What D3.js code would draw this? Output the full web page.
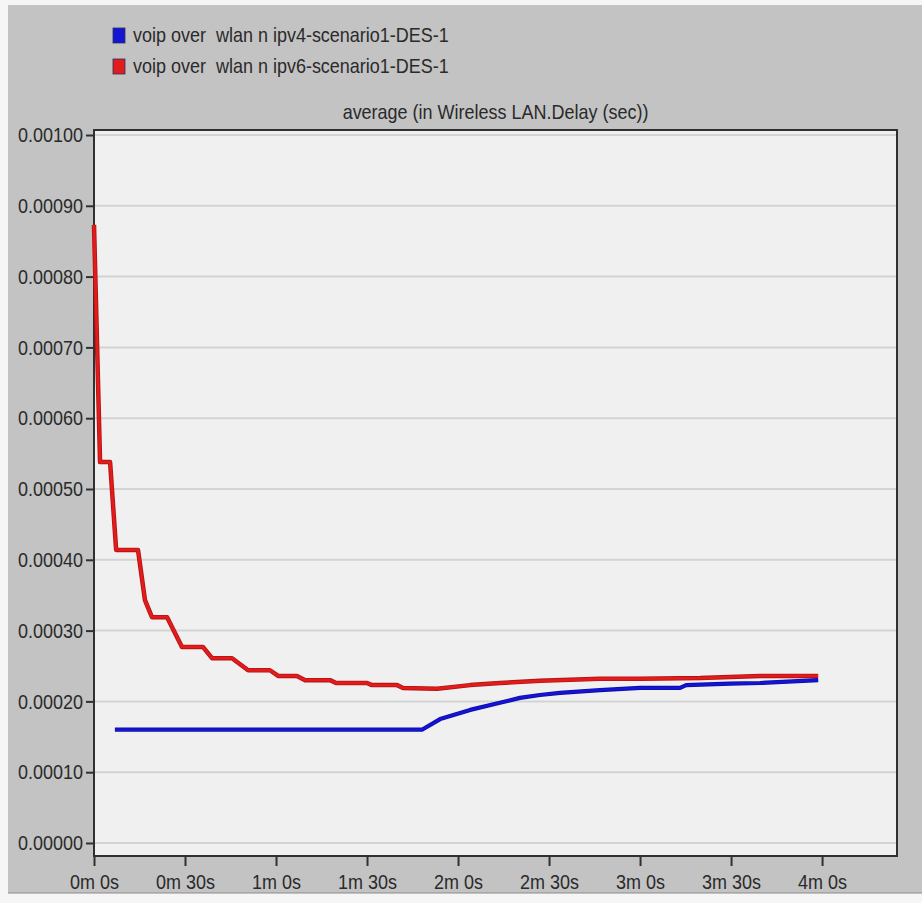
<!DOCTYPE html>
<html>
<head>
<meta charset="utf-8">
<script src="https://cdn.jsdelivr.net/npm/d3@7/dist/d3.min.js"></script>
<style>
  html, body { margin: 0; padding: 0; background: #ffffff; }
  svg { display: block; }
  text { font-family: "Liberation Sans", Arial, sans-serif; fill: #2a2a2a; }
</style>
</head>
<body>
<div id="chart"></div>
<script>
// ---- Data ----
const seriesNames = [
  "voip over  wlan n ipv4-scenario1-DES-1",
  "voip over  wlan n ipv6-scenario1-DES-1"
];
const seriesColors = ["#1414d2", "#e01c1c"];

// time in seconds, value in seconds of delay
const ipv4Times  = [6.9, 108.1, 114.1, 124.0, 133.8, 140.4, 147.0, 153.6, 166.8, 180.0, 193.2, 195.2, 209.7, 219.6, 238.7];
const ipv4Values = [0.000160, 0.000160, 0.000175, 0.000188, 0.000198, 0.000205, 0.000209, 0.000212, 0.000216, 0.000219, 0.000219, 0.000223, 0.000225, 0.000226, 0.000230];

const ipv6Times  = [0, 2.0, 5.3, 7.3, 14.5, 16.8, 19.1, 24.1, 29.0, 35.9, 38.9, 45.5, 50.8, 58.0, 60.7, 66.9, 69.6, 77.8, 79.8, 90.0, 91.6, 99.9, 101.9, 113.1, 124.0, 133.8, 147.0, 166.8, 180.0, 199.8, 219.6, 238.7];
const ipv6Values = [0.000873, 0.000538, 0.000538, 0.000414, 0.000414, 0.000343, 0.000319, 0.000319, 0.000277, 0.000277, 0.000261, 0.000261, 0.000244, 0.000244, 0.000236, 0.000236, 0.000230, 0.000230, 0.000226, 0.000226, 0.000223, 0.000223, 0.000219, 0.000218, 0.000223, 0.000226, 0.000229, 0.000232, 0.000232, 0.000233, 0.000236, 0.000236];

const xTickValues = [0, 30, 60, 90, 120, 150, 180, 210, 240];
const xTickLabels = ["0m 0s", "0m 30s", "1m 0s", "1m 30s", "2m 0s", "2m 30s", "3m 0s", "3m 30s", "4m 0s"];
const yTickValues = [0, 0.0001, 0.0002, 0.0003, 0.0004, 0.0005, 0.0006, 0.0007, 0.0008, 0.0009, 0.0010];
const yTickLabels = ["0.00000", "0.00010", "0.00020", "0.00030", "0.00040", "0.00050", "0.00060", "0.00070", "0.00080", "0.00090", "0.00100"];

const chartTitle = "average (in Wireless LAN.Delay (sec))";

// ---- Layout ----
const W = 922, H = 903;
const plot = { left: 94, right: 897, top: 130, bottom: 856 };
const textStretch = 1.15;

const x = d3.scaleLinear().domain([0, 264.7]).range([plot.left, plot.right]);
const y = d3.scaleLinear().domain([0, 0.001]).range([843, 135]);

const svg = d3.select("#chart").append("svg")
  .attr("width", W).attr("height", H);

// outer panel
svg.append("rect").attr("x", 0).attr("y", 0).attr("width", W).attr("height", H).attr("fill", "#f6f6f6");
svg.append("rect").attr("x", 8).attr("y", 5).attr("width", W - 8).attr("height", 888).attr("fill", "#c3c3c3");
svg.append("line").attr("x1", 8).attr("x2", W).attr("y1", 893).attr("y2", 893).attr("stroke", "#8a8a8a").attr("stroke-width", 1);

// plot background
svg.append("rect")
  .attr("x", plot.left).attr("y", plot.top)
  .attr("width", plot.right - plot.left).attr("height", plot.bottom - plot.top)
  .attr("fill", "#f0f0f0");

// grid lines
svg.append("g").selectAll("line").data(yTickValues).join("line")
  .attr("x1", plot.left).attr("x2", plot.right)
  .attr("y1", d => y(d)).attr("y2", d => y(d))
  .attr("stroke", "#d3d3d3").attr("stroke-width", 2);

// frame
svg.append("rect")
  .attr("x", plot.left).attr("y", plot.top)
  .attr("width", plot.right - plot.left).attr("height", plot.bottom - plot.top)
  .attr("fill", "none").attr("stroke", "#303030").attr("stroke-width", 2);

// y axis
const yAxis = d3.axisLeft(y)
  .tickValues(yTickValues)
  .tickFormat((d, i) => yTickLabels[i])
  .tickSize(8).tickPadding(3);
const gy = svg.append("g").attr("transform", `translate(${plot.left},0)`).call(yAxis);
gy.select(".domain").remove();
gy.selectAll(".tick line").attr("stroke", "#303030").attr("stroke-width", 2);
gy.selectAll(".tick text").style("font-size", "18px").attr("fill", "#2a2a2a")
  .style("font-family", "'Liberation Sans', Arial, sans-serif")
  .attr("transform", `scale(1,${textStretch})`);

// x axis
const xAxis = d3.axisBottom(x)
  .tickValues(xTickValues)
  .tickFormat((d, i) => xTickLabels[i])
  .tickSize(10).tickPadding(6);
const gx = svg.append("g").attr("transform", `translate(0,${plot.bottom})`).call(xAxis);
gx.select(".domain").remove();
gx.selectAll(".tick line").attr("stroke", "#303030").attr("stroke-width", 2);
gx.selectAll(".tick text").style("font-size", "18px").attr("fill", "#2a2a2a")
  .style("font-family", "'Liberation Sans', Arial, sans-serif")
  .attr("transform", `scale(1,${textStretch})`);

// lines
const line = d3.line().x(d => x(d[0])).y(d => y(d[1]));
const ipv6Data = ipv6Times.map((t, i) => [t, ipv6Values[i]]);
const ipv4Data = ipv4Times.map((t, i) => [t, ipv4Values[i]]);

svg.append("path").datum(ipv6Data).attr("d", line)
  .attr("fill", "none").attr("stroke", "#b81010").attr("stroke-width", 4.5).attr("stroke-linejoin", "round");
svg.append("path").datum(ipv6Data).attr("d", line)
  .attr("fill", "none").attr("stroke", seriesColors[1]).attr("stroke-width", 2.8).attr("stroke-linejoin", "round");

svg.append("path").datum(ipv4Data).attr("d", line)
  .attr("fill", "none").attr("stroke", "#0c0caa").attr("stroke-width", 4.2).attr("stroke-linejoin", "round");
svg.append("path").datum(ipv4Data).attr("d", line)
  .attr("fill", "none").attr("stroke", seriesColors[0]).attr("stroke-width", 2.6).attr("stroke-linejoin", "round");

// title
svg.append("text")
  .attr("transform", `translate(${(plot.left + plot.right) / 2},119) scale(1,${textStretch})`)
  .attr("text-anchor", "middle")
  .style("font-size", "18px")
  .text(chartTitle);

// legend
const legend = svg.append("g");
seriesNames.forEach((name, i) => {
  const ly = 28 + i * 31;
  legend.append("rect")
    .attr("x", 113).attr("y", ly).attr("width", 12).attr("height", 15)
    .attr("fill", seriesColors[i]).attr("stroke", "#303060").attr("stroke-width", 0.8);
  legend.append("text")
    .attr("transform", `translate(133,${ly + 14}) scale(1,${textStretch})`)
    .style("font-size", "18px").style("white-space", "pre")
    .text(name);
});
</script>
</body>
</html>
